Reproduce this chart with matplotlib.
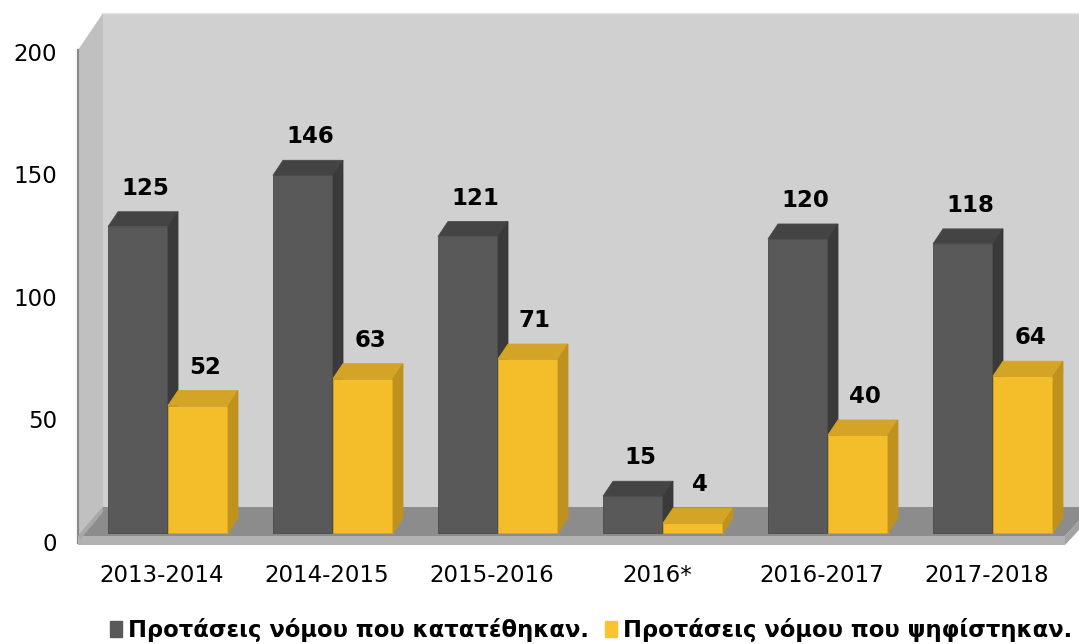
import matplotlib
matplotlib.use('Agg')
import matplotlib.pyplot as plt
from matplotlib.patches import Polygon, Rectangle

# ---- data ----
categories = ['2013-2014', '2014-2015', '2015-2016', '2016*', '2016-2017', '2017-2018']
submitted = [125, 146, 121, 15, 120, 118]
passed = [52, 63, 71, 4, 40, 64]
series_names = ['Προτάσεις νόμου που κατατέθηκαν.', 'Προτάσεις νόμου που ψηφίστηκαν.']
yticks = [0, 50, 100, 150, 200]

# ---- styling / geometry ----
W, H = 1079, 644
PX, PY = 165.0, 2.45      # pixels per x-unit / per value unit
X0, Y0 = 168, 533         # pixel position of x=0 / value=0 (from top-left)
BAR_W = 60 / PX
DDX, DDY = 10 / PX, 15 / PY  # depth offset of bars

DARK = dict(front='#595959', top='#444444', side='#3a3a3a', edge='#4a4a4a')
GOLD = dict(front='#F4BE2A', top='#D3A426', side='#BF921E', edge='#D3A426')

plt.rcParams['font.family'] = ['DejaVu Sans']

fig = plt.figure(figsize=(W / 100, H / 100), dpi=100)
ax = fig.add_axes([0, 0, 1, 1])
ax.set_xlim(-X0 / PX, (W - X0) / PX)
ax.set_ylim((Y0 - H) / PY, Y0 / PY)
ax.axis('off')


def P(x, y):
    """pixel (from top-left) -> data coords, for decorations only"""
    return ((x - X0) / PX, (Y0 - y) / PY)


def poly(pts_px, color, z):
    ax.add_patch(Polygon([P(*p) for p in pts_px], closed=True, facecolor=color,
                         edgecolor='none', lw=0, zorder=z))


# walls
poly([(103, 13), (1079, 13), (1079, 508), (103, 508)], '#d0d0d0', 1)
poly([(78, 50), (103, 13), (103, 508), (78, 543)], '#c0c0c0', 1)
ax.plot(*zip(P(78.5, 50), P(78.5, 543)), color='#8a8a8a', lw=1.6, zorder=1.5)
ax.plot(*zip(P(103, 13), P(1079, 13)), color='#e6e6e6', lw=1, zorder=1.5)

# floor
poly([(78, 536), (103, 507), (1079, 507), (1079, 521), (1065, 536)], '#8c8c8c', 2)
poly([(78, 536), (1065, 536), (1065, 545), (78, 545)], '#b2b2b2', 2)
poly([(1065, 536), (1079, 521), (1079, 530), (1065, 545)], '#a2a2a2', 2)
poly([(78, 536), (103, 507), (103, 512), (80, 540)], '#a8a8a8', 2)


def bar3d(xl, v, c, z):
    xr = xl + BAR_W
    ax.bar(xl, v, width=BAR_W, align='edge', color=c['front'], edgecolor=c['edge'],
           linewidth=0.6, zorder=z)
    ax.add_patch(Polygon([(xl, v), (xl + DDX, v + DDY), (xr + DDX, v + DDY), (xr, v)],
                         facecolor=c['top'], edgecolor=c['edge'], lw=0.6, zorder=z))
    ax.add_patch(Polygon([(xr, 0), (xr, v), (xr + DDX, v + DDY), (xr + DDX, DDY)],
                         facecolor=c['side'], edgecolor=c['side'], lw=0.6, zorder=z))


lab_font = dict(fontsize=16.5, fontweight='bold', color='black')
for i, (a, b) in enumerate(zip(submitted, passed)):
    z = 10 + 2 * i
    bar3d(i - BAR_W, a, DARK, z)
    bar3d(i, b, GOLD, z + 1)
    for xc, v in ((i - BAR_W / 2, a), (i + BAR_W / 2, b)):
        ax.annotate(str(v), xy=(xc, v + DDY), xytext=(7, 17), textcoords='offset pixels',
                    ha='center', va='baseline', zorder=40, **lab_font)

# y tick labels
for t in yticks:
    ax.text(P(57, 0)[0], t - 4.5, str(t), ha='right', va='center', fontsize=16.5,
            color='black', zorder=40)

# category labels
for i, c in enumerate(categories):
    ax.text(i - 6 / PX, P(0, 576)[1], c, ha='center', va='center', fontsize=16.5,
            color='black', zorder=40)

# legend
handles = [Rectangle((0, 0), 1, 1, color=DARK['front']), Rectangle((0, 0), 1, 1, color='#F9C42E')]
fig.legend(handles, series_names, loc='center', bbox_to_anchor=(591 / W, 1 - 630 / H),
           ncol=2, frameon=False, prop=dict(weight='bold', size=16.3),
           handlelength=0.55, handleheight=0.75, handletextpad=0.25, columnspacing=0.7,
           borderaxespad=0, borderpad=0)

fig.savefig('out.png', dpi=100)
